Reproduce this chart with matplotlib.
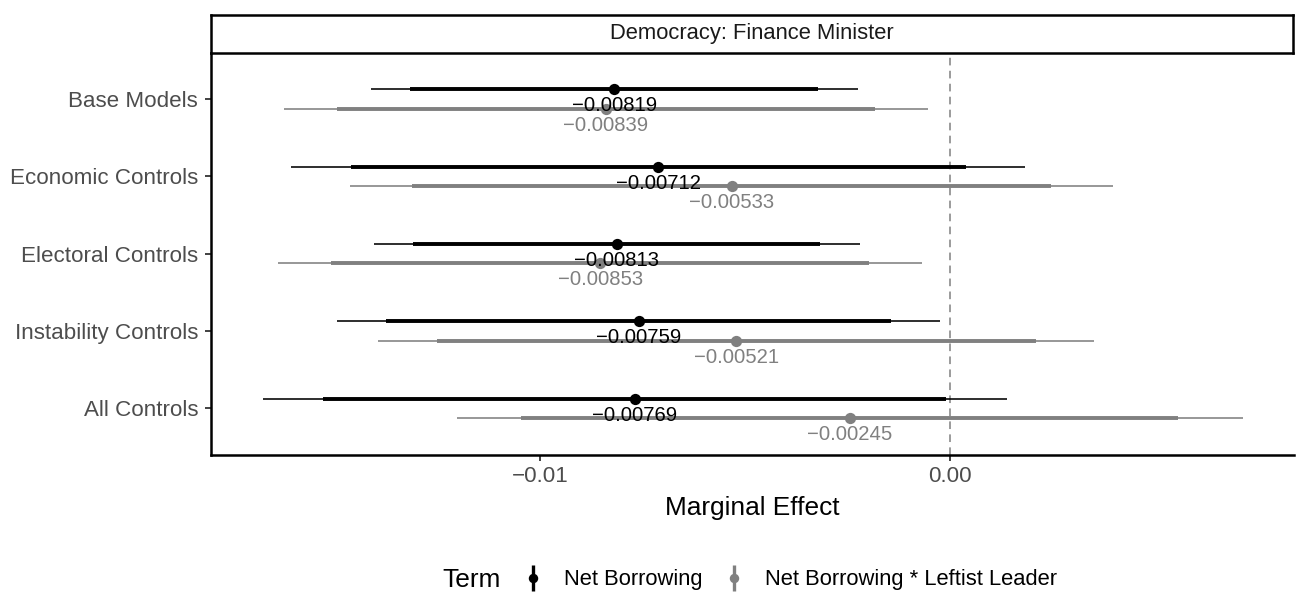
import matplotlib
matplotlib.use("Agg")
import matplotlib.pyplot as plt
from matplotlib.lines import Line2D
from matplotlib.legend_handler import HandlerTuple
from matplotlib.ticker import FixedLocator, FixedFormatter
import numpy as np

plt.rcParams["font.family"] = ["Liberation Sans", "DejaVu Sans"]

# ---- data -------------------------------------------------------------
models = ["Base Models", "Economic Controls", "Electoral Controls",
          "Instability Controls", "All Controls"]
terms = ["Net Borrowing", "Net Borrowing * Leftist Leader"]
panel_title = "Democracy: Finance Minister"

nb_est = [-0.00819, -0.00712, -0.00813, -0.00759, -0.00769]
nb_lo90 = [-0.01316, -0.01461, -0.01309, -0.01374, -0.01527]
nb_hi90 = [-0.00322, 0.00037, -0.00317, -0.00144, -0.00011]
nb_lo95 = [-0.01412, -0.01606, -0.01405, -0.01493, -0.01675]
nb_hi95 = [-0.00226, 0.00182, -0.00221, -0.00025, 0.00137]

nbl_est = [-0.00839, -0.00533, -0.00853, -0.00521, -0.00245]
nbl_lo90 = [-0.01495, -0.01312, -0.01508, -0.01250, -0.01045]
nbl_hi90 = [-0.00183, 0.00246, -0.00198, 0.00208, 0.00555]
nbl_lo95 = [-0.01623, -0.01463, -0.01637, -0.01393, -0.01202]
nbl_hi95 = [-0.00055, 0.00397, -0.00069, 0.00351, 0.00712]

x_ticks = [-0.01, 0.0]
x_tick_labels = ["\u22120.01", "0.00"]

# ---- styling ----------------------------------------------------------
colors = ["#000000", "#808080"]
offsets = [-0.125, 0.125]
W, H = 1299, 594
fig = plt.figure(figsize=(W / 100, H / 100), dpi=100)

px_l, px_r, px_t, px_b = 211, 1294, 52.7, 454.7
ax = fig.add_axes([px_l / W, 1 - px_b / H, (px_r - px_l) / W, (px_b - px_t) / H])

series = [
    (nb_est, nb_lo90, nb_hi90, nb_lo95, nb_hi95),
    (nbl_est, nbl_lo90, nbl_hi90, nbl_lo95, nbl_hi95),
]
ypos = np.arange(len(models))

ax.axvline(0, color="#808080", lw=1.1, dashes=(5, 3.5), zorder=1)

for (est, lo90, hi90, lo95, hi95), col, off in zip(series, colors, offsets):
    y = ypos + off
    ax.hlines(y, lo95, hi95, color=col, lw=1.15, zorder=2)
    ax.hlines(y, lo90, hi90, color=col, lw=2.8, zorder=3)
    ax.plot(est, y, "o", color=col, ms=8.1, mew=0, zorder=4)

for (est, *_), col, off in zip(series, colors, offsets):
    for yi, v in zip(ypos + off, est):
        ax.annotate(f"{v:.5f}".replace("-", "\u2212"), (v, yi),
                    xytext=(0, -11.8), textcoords="offset points",
                    ha="center", va="center", fontsize=14.6, color=col,
                    zorder=5)

ax.set_xlim(-0.01801, 0.00837)
ax.set_ylim(len(models) - 0.4, -0.6)
ax.set_yticks(ypos)
ax.set_yticklabels(models)
ax.xaxis.set_major_locator(FixedLocator(x_ticks))
ax.xaxis.set_major_formatter(FixedFormatter(x_tick_labels))
ax.tick_params(axis="both", labelsize=16.1, labelcolor="#4D4D4D",
               width=1.3, length=4.3, color="#333333")
ax.tick_params(axis="y", pad=5)
ax.tick_params(axis="x", pad=4)
for s in ["top", "right"]:
    ax.spines[s].set_visible(False)
for s in ["left", "bottom"]:
    ax.spines[s].set_linewidth(1.8)
ax.set_xlabel("Marginal Effect", fontsize=18.9, color="black", labelpad=6)

# facet strip
st_t = 15
sax = fig.add_axes([px_l / W, 1 - px_t / H, (1293 - px_l) / W, (px_t - st_t) / H])
sax.set_xticks([])
sax.set_yticks([])
for s in sax.spines.values():
    s.set_linewidth(1.8)
sax.text(0.5, 0.5, panel_title, ha="center", va="center", fontsize=15.8,
         color="#1A1A1A", transform=sax.transAxes)

# legend
handles = []
for col in colors:
    handles.append((Line2D([], [], color=col, marker="|", ms=19, mew=2.4, ls="None"),
                    Line2D([], [], color=col, marker="o", ms=6.8, mew=0, ls="None")))
fig.legend(handles, terms, handler_map={tuple: HandlerTuple(ndivide=1)},
           loc="center left", bbox_to_anchor=(522 / W, 1 - 580 / H),
           ncol=2, frameon=False, fontsize=15.8, handlelength=1.0,
           handletextpad=0.9, columnspacing=0.97, borderpad=0, borderaxespad=0)
fig.text(442 / W, 1 - 580 / H, "Term", ha="left", va="center", fontsize=18.9)

fig.savefig("out.png", dpi=100)
